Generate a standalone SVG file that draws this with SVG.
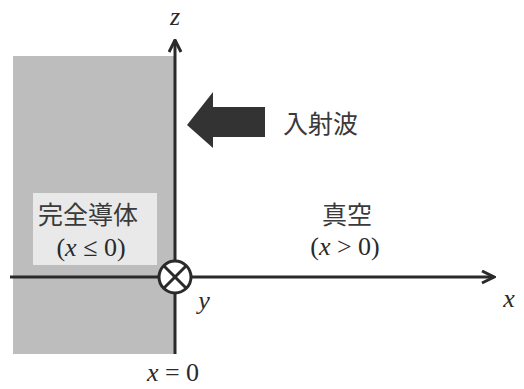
<svg xmlns="http://www.w3.org/2000/svg" width="524" height="389" viewBox="0 0 524 389">
<style>
.ax{stroke:#2a2a2a;stroke-width:3;fill:none}
.jp{font-family:"Noto Sans CJK JP","Noto Sans CJK SC",sans-serif;font-size:25px;fill:#3a3a3a}
.it{font-family:"Liberation Serif",serif;font-style:italic;font-size:26px;fill:#2a2a2a}
.rm{font-family:"Liberation Serif",serif;font-size:26px;fill:#2a2a2a}
</style>
<defs>
<marker id="ah" viewBox="0 0 10 10" refX="9" refY="5" markerWidth="5" markerHeight="5" orient="auto" markerUnits="strokeWidth">
<path d="M1,1 L9,5 L1,9" fill="none" stroke="#2a2a2a" stroke-width="2"/>
</marker>
</defs>
<rect width="524" height="389" fill="#fff"/>
<g id="conductor">
<rect x="13" y="56" width="162" height="298" fill="#bdbdbd"/>
<rect x="33" y="193" width="124" height="72" fill="#e9e9e9"/>
<text class="jp" x="88" y="224" text-anchor="middle">完全導体</text>
<text class="rm" x="91" y="256" text-anchor="middle">(<tspan font-style="italic">x</tspan> ≤ 0)</text>
</g>
<g id="axes">
<line class="ax" x1="175" y1="354" x2="175" y2="40" marker-end="url(#ah)"/>
<line class="ax" x1="10" y1="277" x2="494" y2="277" marker-end="url(#ah)"/>
<circle cx="175" cy="277" r="16" fill="#fff" stroke="#2a2a2a" stroke-width="3"/>
<line x1="164" y1="266" x2="186" y2="288" stroke="#2a2a2a" stroke-width="3"/>
<line x1="186" y1="266" x2="164" y2="288" stroke="#2a2a2a" stroke-width="3"/>
<text class="it" x="175" y="25" text-anchor="middle">z</text>
<text class="it" x="509" y="307" text-anchor="middle">x</text>
<text class="it" x="204" y="309" text-anchor="middle">y</text>
<text class="rm" x="173" y="381" text-anchor="middle"><tspan font-style="italic">x</tspan> = 0</text>
</g>
<g id="wave">
<polygon points="187,125 213,92 213,107 265,107 265,137 213,137 213,148" fill="#333"/>
<text class="jp" x="283" y="133">入射波</text>
</g>
<g id="vacuum">
<text class="jp" x="347" y="224" text-anchor="middle">真空</text>
<text class="rm" x="345" y="255" text-anchor="middle">(<tspan font-style="italic">x</tspan> &gt; 0)</text>
</g>
</svg>
